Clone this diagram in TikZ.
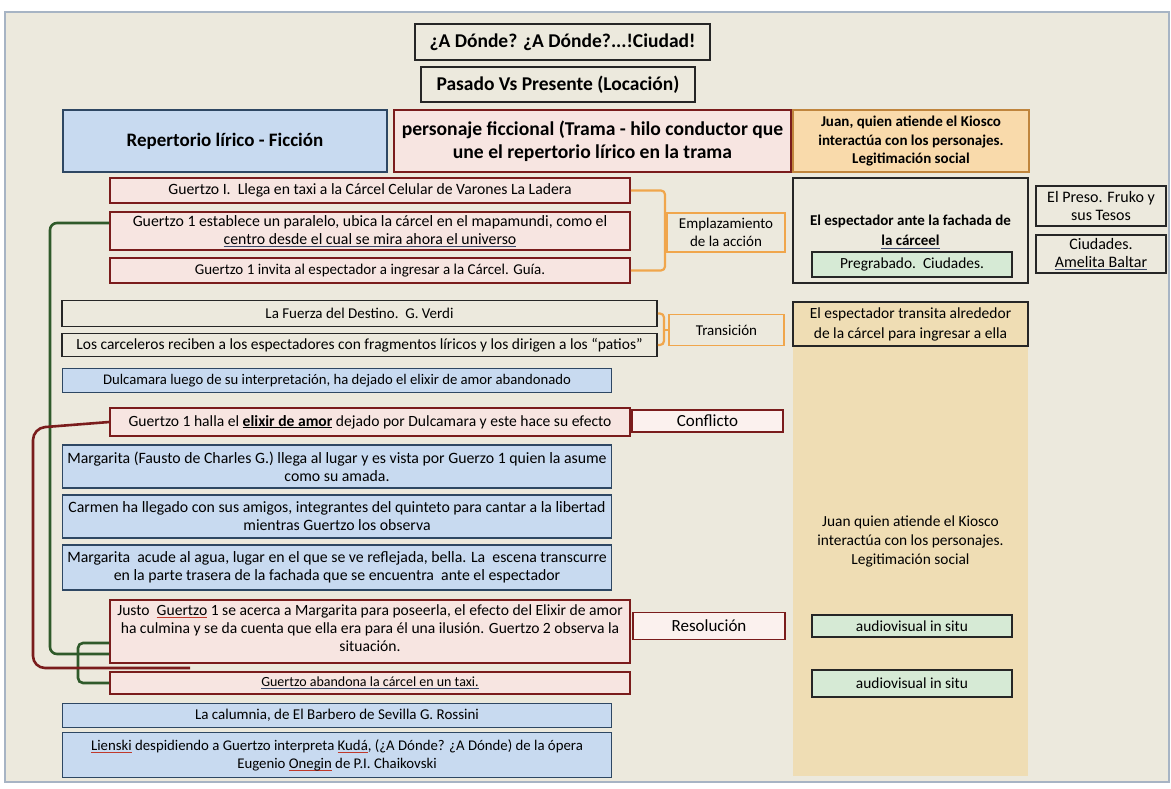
\documentclass[tikz,border=0pt]{standalone}
\usepackage{fontspec}
\setmainfont{Carlito}
\usetikzlibrary{calc}

\definecolor{panel}{HTML}{ECE9DD}
\definecolor{panelrim}{HTML}{A7B4C4}
\definecolor{bluefill}{HTML}{C8DAF0}
\definecolor{blueline}{HTML}{2E4763}
\definecolor{redline}{HTML}{7A1C1C}
\definecolor{pinkfill}{HTML}{F7E5E1}
\definecolor{orline}{HTML}{F0A64C}
\definecolor{orfill}{HTML}{F9DAAB}
\definecolor{colfill}{HTML}{EFDDB4}
\definecolor{greenfill}{HTML}{D6EAD5}
\definecolor{greenline}{HTML}{2F5A2A}
\definecolor{darkline}{HTML}{262626}
\definecolor{squig}{HTML}{C0392B}
\definecolor{gram}{HTML}{3B4A6B}

% underline drawn under a word (spelling / grammar marks)
\newcommand\markline[2]{\setbox0\hbox{#2}\rlap{\color{#1}\rule[-2.6pt]{\wd0}{0.7pt}}\box0\relax}
\newcommand\fs[1]{\fontsize{#1}{18}\selectfont}

\tikzset{
  basebox/.style={draw, line width=1.6pt, inner sep=2pt, align=center,
    font=\fs{15.8}},
  redbox/.style={basebox, draw=redline, fill=pinkfill},
  bluebox/.style={basebox, draw=blueline, fill=bluefill},
  plainbox/.style={basebox, draw=darkline},
  greenbox/.style={basebox, draw=darkline, fill=greenfill, line width=1.4pt, font=\fs{15.4}},
  orlabel/.style={basebox, draw=orline, line width=1.4pt, font=\fontsize{15}{18}\selectfont},
  redlabel/.style={basebox, draw=redline, fill=pinkfill!55!white, font=\fs{17}},
  titlebox/.style={basebox, draw=darkline, line width=1.8pt, font=\bfseries\fontsize{19.5}{22}\selectfont},
  smallbox/.style={basebox, draw=darkline, line width=1.4pt, font=\fontsize{16}{18}\selectfont},
  gconn/.style={draw=greenline, line width=2.6pt, rounded corners=7pt},
  rconn/.style={draw=redline, line width=2.6pt, rounded corners=12pt},
  oconn/.style={draw=orline, line width=2.2pt, rounded corners=4pt},
}

\begin{document}
\begin{tikzpicture}[x=1pt,y=-1pt]
\useasboundingbox (0,0) rectangle (1171,788);
\fill[white] (0,0) rectangle (1171,788);
\draw[panelrim, fill=panel, line width=1.2pt] (5,12) rectangle (1169,782);

% right-hand column band
\fill[colfill] (793,346) rectangle (1028,776);

% titles
\node[titlebox, minimum width=295pt, minimum height=36pt] (t1) at (562.5,42) {¿A Dónde? ¿A Dónde?...!Ciudad!};
\node[titlebox, minimum width=274pt, minimum height=35pt] (t2) at (558,84.5) {Pasado Vs Presente (Locación)};

% header row
\node[bluebox, minimum width=324pt, minimum height=62pt, font=\bfseries\fontsize{19}{22}\selectfont] (rep) at (225,141) {Repertorio lírico - Ficción};
\node[redbox, minimum width=397pt, minimum height=62pt, font=\bfseries\fontsize{19.6}{23}\selectfont] (pers) at (592.5,141) {personaje ficcional (Trama - hilo conductor que\\une el repertorio lírico en la trama};
\node[basebox, draw=orline!80!black, fill=orfill, line width=1.6pt, minimum width=236pt, minimum height=62pt, font=\bfseries\fontsize{15}{18.5}\selectfont] (juan1) at (911,141) {Juan, quien atiende el Kiosco\\interactúa con los personajes.\\Legitimación social};

% left column rows
\node[redbox, minimum width=520pt, minimum height=25pt, font=\fs{15.7}] (r1) at (370,190.5) {Guertzo I.\ \ Llega en taxi a la Cárcel Celular de Varones La Ladera};
\node[redbox, minimum width=520pt, minimum height=38pt] (r2) at (370,231) {Guertzo 1 establece un paralelo, ubica la cárcel en el mapamundi, como el\\\markline{gram}{centro desde el cual se mira ahora el universo}};
\node[redbox, minimum width=520pt, minimum height=25pt, font=\fs{15}] (r3) at (370,270.5) {Guertzo 1 invita al espectador a ingresar a la Cárcel. Guía.};
\node[orlabel, minimum width=118pt, minimum height=39pt] (empl) at (726,232.5) {Emplazamiento\\de la acción};

\node[plainbox, minimum width=595pt, minimum height=26pt, font=\fs{15}] (r4) at (359.5,313.5) {La Fuerza del Destino.\ \ G. Verdi};
\node[plainbox, minimum width=595pt, minimum height=23pt, font=\fs{15.5}] (r5) at (359.5,345) {Los carceleros reciben a los espectadores con fragmentos líricos y los dirigen a los “patios”};
\node[orlabel, minimum width=115pt, minimum height=31pt] (trans) at (726.5,330) {Transición};

\node[bluebox, minimum width=549pt, minimum height=24pt, font=\fs{14.7}] (r6) at (337,380.5) {Dulcamara luego de su interpretación, ha dejado el elixir de amor abandonado};
\node[redbox, minimum width=520pt, minimum height=28pt, font=\fs{15.6}] (r7) at (370,422) {Guertzo 1 halla el \textbf{\underline{elixir de amor}} dejado por Dulcamara y este hace su efecto};
\node[redlabel, minimum width=151pt, minimum height=22pt] (conf) at (707.5,421) {Conflicto};

\node[bluebox, minimum width=549pt, minimum height=43pt] (r8) at (337,466.5) {Margarita (Fausto de Charles G.) llega al lugar y es vista por Guerzo 1 quien la asume\\como su amada.};
\node[bluebox, minimum width=549pt, minimum height=43pt] (r9) at (337,516.5) {Carmen ha llegado con sus amigos, integrantes del quinteto para cantar a la libertad\\mientras Guertzo los observa};
\node[bluebox, minimum width=549pt, minimum height=45pt] (r10) at (337,567.5) {Margarita\ \ acude al agua, lugar en el que se ve reflejada, bella. La\ \ escena transcurre\\en la parte trasera de la fachada que se encuentra\ \ ante el espectador};
\node[redbox, minimum width=520pt, minimum height=63pt] (r11) at (370,631.5) {};
\node[font=\fs{15.6}, align=center] (r11txt) at (370,628) {Justo\ \ \markline{squig}{Guertzo} 1 se acerca a Margarita para poseerla, el efecto del Elixir de amor\\ha culmina y se da cuenta que ella era para él una ilusión. Guertzo 2 observa la\\situación.};
\node[redlabel, minimum width=152pt, minimum height=27pt] (res) at (709,626) {Resolución};
\node[redbox, minimum width=520pt, minimum height=22pt, font=\fs{14}] (r12) at (370,683) {\markline{gram}{Guertzo abandona la cárcel en un taxi.}};
\node[bluebox, minimum width=549pt, minimum height=24pt, font=\fs{15}] (r13) at (337,715.5) {La calumnia, de El Barbero de Sevilla G. Rossini};
\node[bluebox, minimum width=549pt, minimum height=45pt, font=\fs{14.8}] (r14) at (337,755) {\markline{squig}{Lienski} despidiendo a Guertzo interpreta \markline{squig}{Kudá}, (¿A Dónde? ¿A Dónde) de la ópera\\Eugenio \markline{squig}{Onegin} de P.I. Chaikovski};

% right-hand column boxes
\node[plainbox, minimum width=235pt, minimum height=105pt] (fach) at (910.5,230.5) {};
\node[font=\bfseries\fontsize{15}{20}\selectfont, align=center] (fachtxt) at (910.5,232) {El espectador ante la fachada de\\\markline{gram}{la cárceel}};
\node[greenbox, minimum width=200pt, minimum height=25pt] (preg) at (912,264.5) {Pregrabado.\ \ Ciudades.};
\node[smallbox, minimum width=130pt, minimum height=40pt] (preso) at (1101,206) {El Preso. Fruko y\\sus Tesos};
\node[smallbox, minimum width=130pt, minimum height=38pt] (ciud) at (1101,254) {Ciudades.\\\markline{gram}{Amelita Baltar}};
\node[plainbox, fill=colfill, minimum width=235pt, minimum height=44pt, font=\fontsize{15.5}{20}\selectfont] (transita) at (910.5,324) {El espectador transita alrededor\\de la cárcel para ingresar a ella};
\node[align=center, font=\fontsize{15.4}{19}\selectfont] (juan2) at (910.5,541) {Juan quien atiende el Kiosco\\interactúa con los personajes.\\Legitimación social};
\node[greenbox, minimum width=200pt, minimum height=22pt] (av1) at (912,626) {audiovisual in situ};
\node[greenbox, minimum width=200pt, minimum height=27pt] (av2) at (912,683.5) {audiovisual in situ};

% orange brackets to the section labels
\draw[oconn] (r1.east) -- (665,190.5) -- (665,270.5) -- (r3.east);
\draw[oconn] (665,232.5) -- (empl.west);
\draw[oconn] (r4.east) -- (664,313.5) -- (664,345) -- (r5.east);
\draw[oconn] (664,330) -- (trans.west);

% green thread from the second scene down to the ending
\draw[gconn] ([yshift=8pt]r2.west) -- (50,223) -- (50,654) -- ([yshift=-22.5pt]r11.west);
\draw[gconn, rounded corners=5pt] ([yshift=-11.5pt]r11.west) -- (78,643) -- (78,683) -- (r12.west);

% red thread from the conflict to the resolution
\coordinate (rend) at (190,668);
\draw[rconn] (r7.west) -- (33,428) -- (33,668) -- (rend);
\end{tikzpicture}
\end{document}
